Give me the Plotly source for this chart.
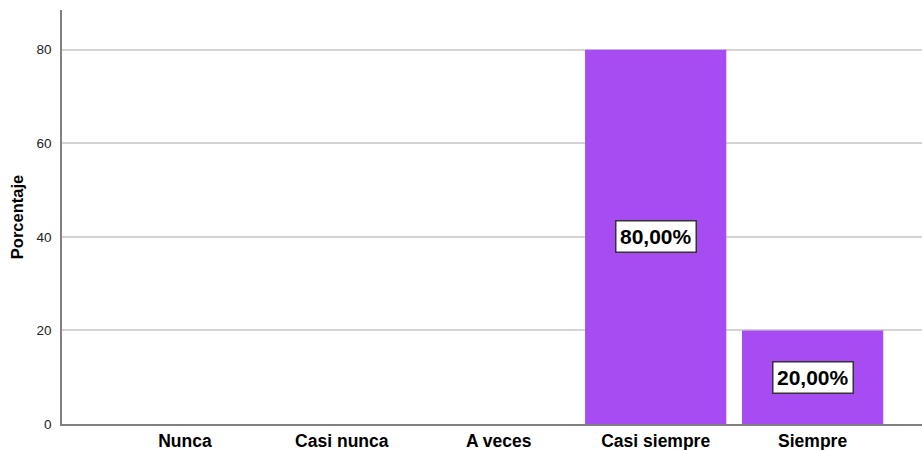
import plotly.graph_objects as go

categories = ["Nunca", "Casi nunca", "A veces", "Casi siempre", "Siempre"]
values = [0, 0, 0, 80, 20]
y_ticks = [0, 20, 40, 60, 80]

bar_color = "#A74CF2"

fig = go.Figure()
fig.add_trace(go.Bar(
    x=categories, y=values,
    marker=dict(color=bar_color, line=dict(width=0)),
    width=0.9,
    hoverinfo="skip",
))

for c, v in zip(categories, values):
    if v > 0:
        fig.add_annotation(
            x=c, y=v / 2, text=f"{v:.2f}".replace(".", ",") + "%",
            showarrow=False,
            font=dict(family="Liberation Sans", size=21, color="black", weight="bold"),
            bgcolor="white", bordercolor="#333333", borderwidth=1.5, borderpad=3.5,
        )

fig.update_layout(
    width=922, height=450,
    margin=dict(l=62, r=0, t=10, b=26),
    plot_bgcolor="white", paper_bgcolor="white",
    showlegend=False,
    font=dict(family="Liberation Sans"),
    xaxis=dict(
        range=[-0.783, 4.697],
        automargin=False,
        showgrid=False, zeroline=False,
        showline=True, linecolor="#808080", linewidth=1.5,
        tickfont=dict(size=17.5, color="black", weight="bold"),
        ticks="", ticklabelstandoff=0,
    ),
    yaxis=dict(
        range=[0, 88.5],
        automargin=False,
        tickvals=y_ticks,
        showgrid=True, gridcolor="#D3D3D3", gridwidth=1.5,
        zeroline=False,
        showline=True, linecolor="#808080", linewidth=1.5,
        tickfont=dict(size=13.5, color="#222222"),
        ticks="", ticklabelstandoff=6,
        title=dict(text="Porcentaje", font=dict(size=16.5, color="black", weight="bold"), standoff=9),
    ),
)

fig.write_html(
    "out.html",
    config={"displayModeBar": False},
    post_script="document.body.style.margin='0';document.body.style.overflow='hidden';",
)
